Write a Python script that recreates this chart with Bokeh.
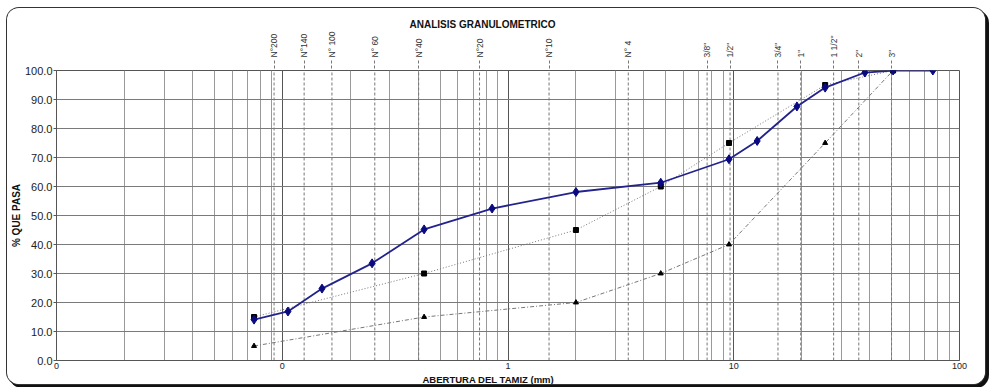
from bokeh.plotting import figure
from bokeh.models import (FixedTicker, NumeralTickFormatter, LogAxis, Range1d, Title)
from bokeh.embed import file_html
from bokeh.resources import INLINE

# ---------------- data ----------------
sample_size_mm = [0.075, 0.106, 0.150, 0.250, 0.425, 0.850, 2.00, 4.75,
                  9.525, 12.70, 19.05, 25.40, 38.10, 50.80, 76.20]
sample_pass = [14.1, 16.9, 24.8, 33.5, 45.2, 52.4, 58.1, 61.3,
               69.4, 75.7, 87.6, 94.1, 99.3, 100.0, 100.0]

spec_size_mm = [0.075, 0.425, 2.00, 4.75, 9.525, 25.40, 50.80]
spec_upper = [15, 30, 45, 60, 75, 95, 100]
spec_lower = [5, 15, 20, 30, 40, 75, 100]

sieve_names = ["N°200", "N°140", "N° 100", "N° 60", "N°40", "N°20", "N°10", "N° 4",
               "3/8\"", "1/2\"", "3/4\"", "1\"", "1 1/2\"", "2\"", "3\""]
sieve_line_mm = [0.092, 0.125, 0.166, 0.257, 0.402, 0.748, 1.52, 3.41,
                 7.62, 9.63, 15.7, 19.8, 27.7, 35.8, 50.0]

x_ticks = [0.01, 0.1, 1, 10, 100]
x_minor_ticks = [m * 10.0 ** e for e in range(-2, 2) for m in range(2, 10)]
y_ticks = list(range(0, 101, 10))

title_text = "ANALISIS GRANULOMETRICO"
x_title = "ABERTURA  DEL  TAMIZ (mm)"
y_title = "% QUE PASA"

FONT = "Liberation Sans"

# ---------------- figure ----------------
p = figure(width=978, height=376, x_axis_type="log",
           x_range=Range1d(0.01, 100), y_range=Range1d(0, 100),
           output_backend="svg", toolbar_location=None,
           min_border_left=47, min_border_right=26,
           min_border_top=62, min_border_bottom=23,
           margin=(8, 0, 0, 7))
p.background_fill_color = "white"
p.border_fill_color = "white"
p.outline_line_color = "#555555"
p.styles = {"border-radius": "12px", "overflow": "hidden",
            "box-shadow": "0 0 0 1px #333333, 3px 3px 0 1px #111111"}

# title
p.title.text = title_text
p.title.align = "left"
p.title.offset = 353
p.title.standoff = -2
p.title.text_font = FONT
p.title.text_font_size = "10px"
p.title.text_font_style = "bold"
p.title.text_color = "#111111"

# bottom axis
p.xaxis.ticker = FixedTicker(ticks=x_ticks, minor_ticks=x_minor_ticks)
p.xaxis.formatter = NumeralTickFormatter(format="0")
p.xaxis.major_tick_out = 0
p.xaxis.major_tick_in = 0
p.xaxis.minor_tick_out = 0
p.xaxis.minor_tick_in = 0
p.xaxis.axis_line_color = "#555555"
p.xaxis.major_label_text_font = FONT
p.xaxis.major_label_text_font_size = "9px"
p.xaxis.major_label_text_color = "#222222"
p.xaxis.major_label_standoff = 2

xt = Title(text=x_title, align="left", offset=366, standoff=0,
           text_font=FONT, text_font_size="9.5px", text_font_style="bold",
           text_color="#111111")
p.add_layout(xt, "below")

# left axis
p.yaxis.ticker = FixedTicker(ticks=y_ticks)
p.yaxis.formatter = NumeralTickFormatter(format="0.0")
p.yaxis.major_tick_out = 3
p.yaxis.major_tick_in = 0
p.yaxis.minor_tick_out = 0
p.yaxis.minor_tick_in = 0
p.yaxis.axis_line_color = "#555555"
p.yaxis.major_tick_line_color = "#555555"
p.yaxis.major_label_text_font = FONT
p.yaxis.major_label_text_font_size = "11px"
p.yaxis.major_label_text_color = "#222222"
p.yaxis.major_label_standoff = 1
p.yaxis.axis_label = y_title
p.yaxis.axis_label_text_font = FONT
p.yaxis.axis_label_text_font_size = "10px"
p.yaxis.axis_label_text_font_style = "bold"
p.yaxis.axis_label_text_color = "#111111"
p.yaxis.axis_label_standoff = 0

# top axis: sieve names at the dashed sieve lines
sieve_axis = LogAxis(ticker=FixedTicker(ticks=sieve_line_mm),
                     major_label_overrides=dict(zip(sieve_line_mm, sieve_names)),
                     major_label_orientation="vertical",
                     major_label_standoff=3,
                     major_label_text_font=FONT,
                     major_label_text_font_size="8.5px",
                     major_label_text_color="#333333",
                     axis_line_color=None,
                     major_tick_out=10, major_tick_in=0,
                     major_tick_line_color="#777777",
                     major_tick_line_dash="3 2",
                     minor_tick_out=0, minor_tick_in=0)
p.add_layout(sieve_axis, "above")

# grids
p.xgrid.grid_line_color = "#555555"
p.xgrid.minor_grid_line_color = "#9a9a9a"
p.ygrid.grid_line_color = "#7a7a7a"

# sieve reference lines (dashed)
p.segment(x0=sieve_line_mm, y0=[0] * len(sieve_line_mm),
          x1=sieve_line_mm, y1=[100] * len(sieve_line_mm),
          line_color="#777777", line_width=1, line_dash="3 2")

# specification limits
p.line(spec_size_mm, spec_upper, line_color="#777777", line_width=1, line_dash="1 2")
p.scatter(spec_size_mm, spec_upper, marker="square", size=5, color="black")
p.line(spec_size_mm, spec_lower, line_color="#777777", line_width=1, line_dash="4 2 1 2")
p.scatter(spec_size_mm, spec_lower, marker="triangle", size=5, color="black")

# sample curve
p.line(sample_size_mm, sample_pass, line_color="#23238e", line_width=1.8)
p.scatter(sample_size_mm, sample_pass, marker="diamond", size=9, color="#0a0a80")

open("out.html", "w").write(file_html(p, INLINE))
